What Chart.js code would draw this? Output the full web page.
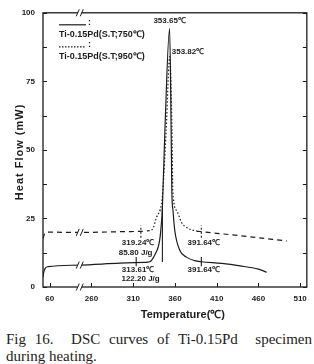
<!DOCTYPE html>
<html>
<head>
<meta charset="utf-8">
<script src="https://cdn.jsdelivr.net/npm/chart.js@4.4.1/dist/chart.umd.min.js"></script>
<style>
    html, body { margin: 0; padding: 0; background: #fff; }
    #wrap { position: relative; width: 314px; height: 324px; }
    #cap { font-family: 'Liberation Serif', serif; font-size: 15px; line-height: 17px; color: #222; margin: 7px 2px 0 6px; }
    .l1 { text-align: justify; text-align-last: justify; }
</style>
</head>
<body>
<div id="wrap"><canvas id="dsc"></canvas></div>
<div id="cap">
    <div class="l1">Fig 16.&nbsp; DSC curves of Ti-0.15Pd&nbsp; specimen</div>
    <div>during heating.</div>
</div>
<script>
// sumbu x patah: posisi 210 dipakai untuk label 60
const xTickVals = [210, 260, 310, 360, 410, 460, 510];
const xTickText = ['60', '260', '310', '360', '410', '460', '510'];
const yTickVals = [0, 25, 50, 75, 100];
const yMarkVals = [0, 12.5, 25, 37.5, 50, 62.5, 75, 87.5, 100];
const breakTemp = 246;

// Ti-0.15Pd (S.T;750℃) - garis penuh
const tempA = [202, 203, 205, 208, 246, 294, 324, 329.7, 335.7, 341.7, 343.8, 345, 348, 353.65, 355.5, 356.3, 357.7, 359.8, 365.8, 373.8, 383.8, 391.64, 416, 438, 460, 470];
const flowA = [3.5, 5.5, 7, 7.4, 8.0, 8.7, 9.0, 9.2, 11.6, 17, 23.2, 29, 57, 94.2, 57, 35, 27.9, 20.7, 13.4, 10.9, 9.6, 9.2, 8.6, 7.7, 6.5, 5.4];

// Ti-0.15Pd (S.T;950℃) - garis putus
const tempB = [202, 204, 207, 246, 300, 319.24, 328, 333, 338, 344, 345.5, 349.5, 353.82, 356.5, 357.5, 362, 368, 374, 386, 391.64, 438, 494];
const flowB = [17.7, 19.5, 20, 19.9, 20.2, 20.3, 20.5, 21, 25.4, 30.4, 35, 57, 84, 57, 35, 27.9, 23.5, 21.7, 20.4, 20.2, 18.7, 16.8];

// garis batas integrasi
const dropTempA = 345;
const dropFlowA = [29, 9.1];
const markTempA = [313.61, 391.64];
const markFlowA = [7.6, 10.9];
const markTempB = [319.24, 391.64];
const markFlowB = [18, 22.5];

const notes = [
    { t: 353.65, v: 94.2, text: '353.65℃', align: 'center', dy: -8 },
    { t: 356.2, v: 85.9, text: '353.82℃', align: 'left', dy: 0 },
    { t: 315.9, v: 16.3, text: '319.24℃', align: 'center', dy: 0 },
    { t: 312.9, v: 12.3, text: '85.80 J/g', align: 'center', dy: 0 },
    { t: 315.9, v: 6.2, text: '313.61℃', align: 'center', dy: 0 },
    { t: 318.9, v: 2.9, text: '122.20 J/g', align: 'center', dy: 0 },
    { t: 394.6, v: 16.3, text: '391.64℃', align: 'center', dy: 0 },
    { t: 394.6, v: 6.2, text: '391.64℃', align: 'center', dy: 0 }
];

const ink = '#1c1c1c';
const pts = (xs, ys) => xs.map((x, i) => ({ x: x, y: ys[i] }));
const marks = (xs, r) => xs.flatMap(x => [{ x: x, y: r[0] }, { x: x, y: r[1] }, { x: x, y: null }]);

function interp(xs, ys, x) {
    for (let i = 1; i < xs.length; i++) {
        if (x <= xs[i]) return ys[i - 1] + (ys[i] - ys[i - 1]) * (x - xs[i - 1]) / (xs[i] - xs[i - 1]);
    }
    return ys[ys.length - 1];
}

function drawBreak(ctx, cx, cy, h) {
    ctx.fillStyle = '#fff';
    ctx.fillRect(cx - 2, cy - 2, 4, 4);
    ctx.beginPath();
    ctx.moveTo(cx - 3.5, cy + h / 2); ctx.lineTo(cx - 0.5, cy - h / 2);
    ctx.moveTo(cx + 0.5, cy + h / 2); ctx.lineTo(cx + 3.5, cy - h / 2);
    ctx.stroke();
}

const decor = {
    id: 'decor',
    afterDraw(chart) {
        const { ctx, chartArea: a, scales: { x, y } } = chart;
        ctx.save();
        ctx.strokeStyle = ink;
        ctx.lineWidth = 1.3;
        ctx.strokeRect(a.left, a.top, a.right - a.left, a.bottom - a.top);

        // tanda skala ke dalam
        ctx.lineWidth = 1;
        ctx.beginPath();
        yMarkVals.forEach(v => {
            const py = Math.round(y.getPixelForValue(v)) + 0.5;
            ctx.moveTo(a.left, py); ctx.lineTo(a.left + 4, py);
            ctx.moveTo(a.right, py); ctx.lineTo(a.right - 4, py);
        });
        xTickVals.forEach(v => {
            const px = Math.round(x.getPixelForValue(v)) + 0.5;
            ctx.moveTo(px, a.bottom); ctx.lineTo(px, a.bottom - 4);
        });
        ctx.stroke();

        // tanda patah
        const bx = x.getPixelForValue(breakTemp);
        drawBreak(ctx, bx, a.top, 7);
        drawBreak(ctx, bx, a.bottom, 7);
        drawBreak(ctx, bx, y.getPixelForValue(interp(tempA, flowA, breakTemp)), 7);
        drawBreak(ctx, bx, y.getPixelForValue(interp(tempB, flowB, breakTemp)), 7);

        // judul sumbu
        ctx.fillStyle = ink;
        ctx.textBaseline = 'middle';
        ctx.textAlign = 'center';
        ctx.font = 'bold 11px "Liberation Sans", sans-serif';
        ctx.fillText('Temperature(℃)', (a.left + a.right) / 2 + 8, a.bottom + 28);
        ctx.save();
        ctx.translate(20, (a.top + a.bottom) / 2 + 2);
        ctx.rotate(-Math.PI / 2);
        ctx.letterSpacing = '1px';
        ctx.fillText('Heat Flow (mW)', 0, 0);
        ctx.restore();

        // keterangan
        ctx.font = 'bold 8px "Liberation Sans", sans-serif';
        notes.forEach(n => {
            ctx.textAlign = n.align;
            ctx.fillText(n.text, x.getPixelForValue(n.t), y.getPixelForValue(n.v) + n.dy);
        });

        // legenda manual
        const lx = a.left + 16;
        ctx.textAlign = 'left';
        ctx.lineWidth = 1.2;
        ctx.beginPath();
        ctx.moveTo(lx, a.top + 12); ctx.lineTo(lx + 27, a.top + 12);
        ctx.stroke();
        ctx.setLineDash([1.5, 1.5]);
        ctx.beginPath();
        ctx.moveTo(lx, a.top + 34); ctx.lineTo(lx + 27, a.top + 34);
        ctx.stroke();
        ctx.setLineDash([]);
        ctx.font = 'bold 9px "Liberation Sans", sans-serif';
        ctx.fillText(':', lx + 29, a.top + 10);
        ctx.fillText(':', lx + 29, a.top + 32);
        ctx.fillText('Ti-0.15Pd(S.T;750℃)', lx, a.top + 22);
        ctx.fillText('Ti-0.15Pd(S.T;950℃)', lx, a.top + 44);
        ctx.restore();
    }
};

new Chart(document.getElementById('dsc'), {
    type: 'line',
    data: {
        datasets: [
            {
                label: 'Ti-0.15Pd(S.T;750℃)',
                data: pts(tempA, flowA),
                borderColor: ink,
                borderWidth: 1.2,
                pointRadius: 0,
                cubicInterpolationMode: 'monotone'
            },
            {
                label: 'Ti-0.15Pd(S.T;950℃)',
                data: pts(tempB, flowB),
                borderColor: ink,
                borderWidth: 1.2,
                borderDash: [5, 4],
                pointRadius: 0,
                cubicInterpolationMode: 'monotone',
                segment: {
                    borderDash: c => (c.p0.parsed.x > 326 && c.p1.parsed.x < 390) ? [1.5, 2] : undefined
                }
            },
            {
                label: 'batas 750',
                data: marks(markTempA, markFlowA).concat(marks([dropTempA], dropFlowA)),
                borderColor: ink,
                borderWidth: 1.1,
                pointRadius: 0,
                spanGaps: false
            },
            {
                label: 'batas 950',
                data: marks(markTempB, markFlowB),
                borderColor: ink,
                borderWidth: 1.1,
                borderDash: [2, 2],
                pointRadius: 0,
                spanGaps: false
            }
        ]
    },
    options: {
        responsive: true,
        maintainAspectRatio: false,
        animation: false,
        layout: { padding: { top: 10, right: 7, left: 0, bottom: 0 } },
        plugins: {
            legend: { display: false },
            tooltip: { enabled: false }
        },
        scales: {
            x: {
                type: 'linear',
                min: 202,
                max: 518,
                afterBuildTicks: s => { s.ticks = xTickVals.map(v => ({ value: v })); },
                afterFit: s => { s.height = 37; },
                ticks: {
                    callback: v => xTickText[xTickVals.indexOf(v)],
                    font: { family: 'Liberation Sans', size: 8, weight: 'bold' },
                    color: ink,
                    padding: 7,
                    maxRotation: 0,
                    autoSkip: false
                },
                grid: { display: false, drawTicks: false },
                border: { display: false }
            },
            y: {
                min: 0,
                max: 100,
                afterBuildTicks: s => { s.ticks = yTickVals.map(v => ({ value: v })); },
                afterFit: s => { s.width = 43; },
                ticks: {
                    font: { family: 'Liberation Sans', size: 8, weight: 'bold' },
                    color: ink,
                    padding: 8
                },
                grid: { display: false, drawTicks: false },
                border: { display: false }
            }
        }
    },
    plugins: [decor]
});
</script>
</body>
</html>
